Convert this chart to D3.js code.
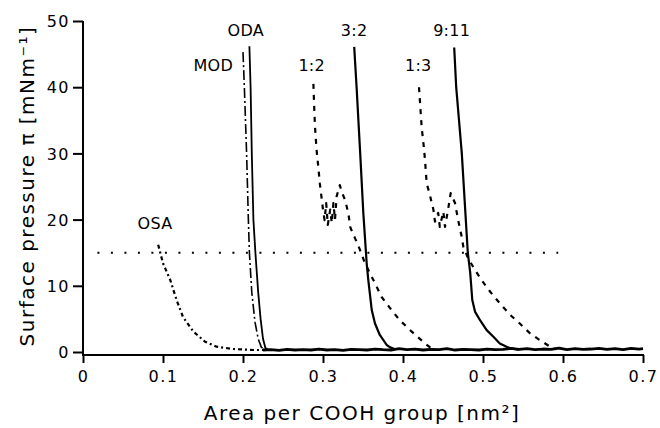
<!DOCTYPE html>
<html><head><meta charset="utf-8">
<script src="https://cdn.jsdelivr.net/npm/d3@7"></script>
<style>body{margin:0;background:#fff}svg{display:block}</style>
</head><body><svg id="c" width="660" height="428"></svg>
<script>
// ---- data (area per COOH group [nm^2], surface pressure [mN/m]) ----
const xTicks = [0, 0.1, 0.2, 0.3, 0.4, 0.5, 0.6, 0.7];
const yTicks = [0, 10, 20, 30, 40, 50];
const refPressure = 15;
const refRange = [0.018, 0.594];

const osa = [[0.094,16.2],[0.100,13.4],[0.109,10.9],[0.117,7.85],[0.125,5.3],[0.138,3.07],[0.1525,1.56],[0.167,0.8],[0.188,0.45],[0.213,0.3],[0.225,0.3]];
const mod = [[0.200,45.3],[0.2017,40],[0.2045,30],[0.2067,20],[0.208,15],[0.211,9],[0.215,4.5],[0.219,2],[0.223,0.7],[0.228,0.3]];
const oda = [[0.208,46.2],[0.2095,40],[0.211,30],[0.213,20],[0.2155,15],[0.219,9],[0.222,5],[0.225,2],[0.228,0.6],[0.232,0.3]];
const r12 = [[0.288,40.5],[0.289,37],[0.290,34],[0.292,30.5],[0.2945,27.5],[0.296,25.5],[0.298,23.5],[0.300,21.5],[0.302,19.9],[0.304,22.5],[0.306,19.2],[0.309,21.5],[0.311,19.5],[0.313,22.5],[0.315,20],[0.317,23.5],[0.321,25.2],[0.324,24],[0.3275,23],[0.330,21.8],[0.332,20.7],[0.334,18.9],[0.337,18],[0.340,17.2],[0.346,15.5],[0.3525,13.4],[0.359,11.8],[0.365,10.4],[0.373,8.35],[0.384,6.6],[0.396,4.8],[0.411,3.07],[0.4275,1.3],[0.435,0.6]];
const r32 = [[0.339,46.1],[0.342,40],[0.3465,30],[0.3504,21],[0.3546,13.4],[0.3566,10.9],[0.359,8.35],[0.361,6.3],[0.365,4.3],[0.371,2.57],[0.3796,1.06],[0.384,0.7],[0.390,0.4]];
const r13 = [[0.420,40],[0.4233,34],[0.426,31],[0.4275,29],[0.4296,25.5],[0.434,23.5],[0.438,21.5],[0.440,19.7],[0.444,21],[0.446,18.9],[0.4504,21.2],[0.4525,18.9],[0.4566,21.7],[0.4596,24],[0.465,22.5],[0.469,19.9],[0.4734,17.4],[0.4754,15.9],[0.482,14],[0.490,12.4],[0.498,10.9],[0.509,9.1],[0.521,7.35],[0.534,5.6],[0.546,4.3],[0.559,2.8],[0.571,1.8],[0.584,0.8],[0.592,0.4]];
const r911 = [[0.464,46],[0.4665,40],[0.4735,30],[0.4785,20],[0.481,15],[0.484,12],[0.4866,7.85],[0.490,6.1],[0.4963,4.8],[0.5046,3.3],[0.513,2.3],[0.521,1.3],[0.5296,0.8],[0.534,0.56],[0.545,0.35]];
const baseX = [0.225,0.235,0.245,0.255,0.265,0.275,0.285,0.295,0.305,0.315,0.325,0.335,0.345,0.355,0.365,0.375,0.385,0.395,0.405,0.415,0.425,0.435,0.445,0.455,0.465,0.475,0.485,0.495,0.505,0.515,0.525,0.535,0.545,0.555,0.565,0.575,0.585,0.595,0.605,0.615,0.625,0.635,0.645,0.655,0.665,0.675,0.685,0.695,0.700];
const baseY = [0.3,0.35,0.25,0.4,0.3,0.35,0.3,0.45,0.3,0.35,0.25,0.4,0.35,0.3,0.45,0.35,0.3,0.5,0.35,0.45,0.3,0.4,0.35,0.5,0.3,0.4,0.35,0.3,0.45,0.35,0.4,0.55,0.4,0.5,0.35,0.45,0.4,0.6,0.35,0.5,0.4,0.45,0.55,0.4,0.5,0.35,0.55,0.45,0.5];

const labels = [
  {t:"ODA", x:0.2035, y:47.7},
  {t:"MOD", x:0.1629, y:42.4},
  {t:"1:2", x:0.2859, y:42.4},
  {t:"3:2", x:0.339, y:47.7},
  {t:"1:3", x:0.4191, y:42.4},
  {t:"9:11", x:0.4609, y:47.7},
  {t:"OSA", x:0.090, y:18.6}
];

// ---- chart ----
const svg = d3.select("#c");
const x = d3.scaleLinear().domain([0, 0.7]).range([83, 643]);
const y = d3.scaleLinear().domain([0, 50]).range([352, 21]);
const font = "'DejaVu Sans', Verdana, sans-serif";

// axes
const xAxis = svg.append("g").attr("transform", "translate(0,355)")
  .call(d3.axisBottom(x).tickValues(xTicks).tickFormat(d => d === 0 ? "0" : d3.format(".1f")(d)).tickSize(8).tickPadding(8).tickSizeOuter(0));
const yAxis = svg.append("g").attr("transform", "translate(83,0)")
  .call(d3.axisLeft(y).tickValues(yTicks).tickSize(10).tickPadding(3).tickSizeOuter(0));
[xAxis, yAxis].forEach(a => {
  a.select(".domain").attr("stroke", "#000").attr("stroke-width", 2);
  a.selectAll(".tick line").attr("stroke", "#000").attr("stroke-width", 2);
  a.selectAll(".tick text").attr("font-family", font).attr("font-size", 16).attr("fill", "#000").attr("letter-spacing", 1.5);
});
yAxis.select(".domain").attr("d", `M0,${y(50)}V355`);
xAxis.select(".domain").attr("d", `M${x(0)-1},0H${x(0.7)+1}`);
yAxis.selectAll(".tick text").attr("dy", "0.36em");

// reference dotted line
svg.append("line").attr("x1", x(refRange[0])).attr("x2", x(refRange[1]))
  .attr("y1", y(refPressure)).attr("y2", y(refPressure))
  .attr("stroke", "#000").attr("stroke-width", 2).attr("stroke-dasharray", "2 11.5");

const line = d3.line().x(d => x(d[0])).y(d => y(d[1]));
const g = svg.append("g").attr("fill", "none").attr("stroke", "#000").attr("stroke-linejoin", "round");

g.append("path").datum(baseX.map((v, i) => [v, baseY[i]])).attr("d", line).attr("stroke-width", 2.8);
g.append("path").datum(osa).attr("d", line).attr("stroke-width", 2.2).attr("stroke-dasharray", "4 3 2 3");
g.append("path").datum(mod).attr("d", line).attr("stroke-width", 1.6).attr("stroke-dasharray", "10 3 2 3");
g.append("path").datum(oda).attr("d", line).attr("stroke-width", 1.8);
g.append("path").datum(r12).attr("d", line).attr("stroke-width", 2.2).attr("stroke-dasharray", "5 6");
g.append("path").datum(r32).attr("d", line).attr("stroke-width", 2.2);
g.append("path").datum(r13).attr("d", line).attr("stroke-width", 2.2).attr("stroke-dasharray", "5 6");
g.append("path").datum(r911).attr("d", line).attr("stroke-width", 2.2);

svg.append("g").selectAll("text").data(labels).join("text")
  .attr("x", d => x(d.x)).attr("y", d => y(d.y)).attr("text-anchor", "middle")
  .attr("font-family", font).attr("font-size", 16).attr("letter-spacing", 0.3)
  .text(d => d.t);

// axis titles
svg.append("text").attr("x", 362).attr("y", 420).attr("text-anchor", "middle")
  .attr("font-family", font).attr("font-size", 20).attr("letter-spacing", 1.5)
  .text("Area per COOH group [nm²]");
svg.append("text").attr("transform", "translate(34,186) rotate(-90)").attr("text-anchor", "middle")
  .attr("font-family", font).attr("font-size", 20).attr("letter-spacing", 1.5)
  .text("Surface pressure π [mNm⁻¹]");
</script></body></html>
